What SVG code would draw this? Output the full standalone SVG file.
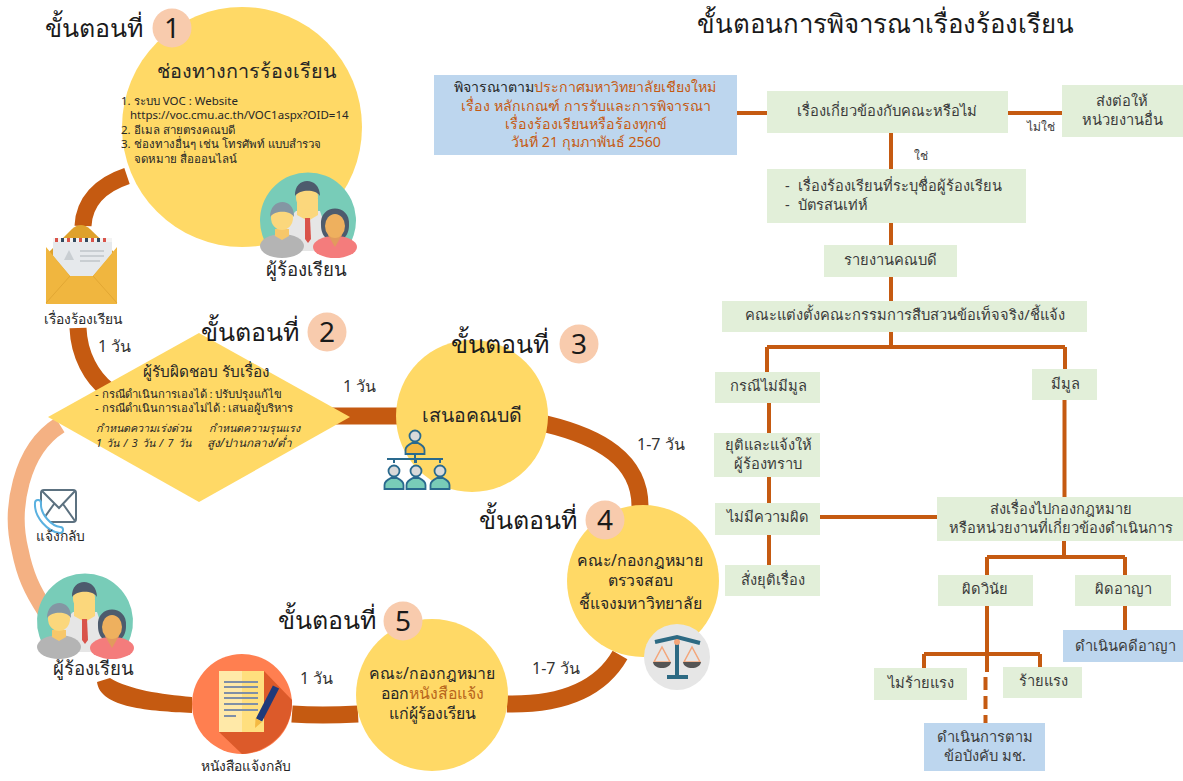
<svg xmlns="http://www.w3.org/2000/svg" width="1183" height="781" viewBox="0 0 1183 781">
<style>
text{font-family:"Noto Sans","Open Sans","DejaVu Sans",sans-serif;fill:#262626}
.c{text-anchor:middle}
.t{font-size:25px;fill:#1a1a1a}
.h{font-size:25.800px;fill:#1a1a1a}
.n{font-size:28px;text-anchor:middle;fill:#1a1a1a}
.num{fill:#f8cbad}
.y{fill:#ffd966}
.g{fill:#e2efd9}
.b{fill:#bdd6ee}
.r{font-size:14.700px;fill:#3b3b3b;text-anchor:middle}
.q{font-size:14.200px;fill:#c55a11;text-anchor:middle}
.d{font-size:16px;fill:#333}
.e{font-size:15.800px;fill:#262626}
.o{fill:#c55a11}
.w{fill:none;stroke:#c55a11;stroke-width:4}
.a{fill:none;stroke:#c55a11;stroke-width:17}
.s{font-size:11.500px}
.m{font-size:11.300px}
.i{font-size:10.800px;font-style:italic}
.l{font-size:13.800px}
.p{font-size:18.600px}
</style>
<defs>
<g id="people">
<path d="M-37,30A48,48 0 1 1 37,30Z" fill="#78ccb8"/>
<path d="M-24,2L-12,-10H12L18,8V30H-20Z" fill="#e6e6e6"/>
<path d="M-11,-22H10V-6L0,0L-11,-6Z" fill="#fbd77c"/>
<ellipse cx="-1" cy="-24" rx="11" ry="13" fill="#fbd77c"/>
<path d="M-13,-25C-14,-45 12,-45 12,-25C8,-32 -8,-32 -13,-25Z" fill="#4d5b6d"/>
<path d="M-3,-3H2L3,18L0,22L-3,18Z" fill="#d9534a"/>
<ellipse cx="-26" cy="25" rx="22" ry="12" fill="#b4b4b4"/>
<path d="M-33,8H-19V15L-26,19L-33,15Z" fill="#f7c76a"/>
<ellipse cx="-26" cy="-3" rx="11" ry="12" fill="#fbd77c"/>
<path d="M-38,-4C-38,-24 -13,-24 -14,-4C-18,-11 -33,-11 -38,-4Z" fill="#8496a3"/>
<path d="M13,4C11,-18 43,-18 41,4C41,10 39,14 37,16H17C15,14 13,10 13,4Z" fill="#4d5b6d"/>
<ellipse cx="27" cy="26" rx="22" ry="11" fill="#f47c7c"/>
<path d="M20,14H34L27,26Z" fill="#e29a5d"/>
<ellipse cx="27" cy="5" rx="10" ry="12" fill="#eeb05e"/>
</g>
<g id="op">
<circle cx="0" cy="-15" r="5.500" fill="#d9d9d9" stroke="#2a6a8e" stroke-width="1.800"/>
<path d="M-9.500,3V-1C-9.500,-5 -5,-7 -3,-8H3C5,-7 9.500,-5 9.500,-1V3Z" stroke="#2a6a8e" stroke-width="1.800"/>
</g>
</defs>

<g id="connectors">
<path class="a" d="M127,176C100,185 84,202 83,226"/>
<path class="a" d="M78,328C79,355 92,378 108,390"/>
<path class="a" d="M330,416H405"/>
<path class="a" d="M546,424C600,437 640,460 640,506"/>
<path class="a" d="M620,655C600,690 560,705 507,704"/>
<path class="a" d="M292,714C320,716 340,715 358,714"/>
<path class="o" d="M110,678C130,690 160,694 192,697V713C150,711 100,708 97,682Z"/>
<path d="M60,425C20,450 10,510 20,550C25,575 32,590 45,610" fill="none" stroke="#f4b183" stroke-width="17"/>
<path class="w" d="M737,113H767M1008,113H1062M891,133V169M891,223V245M891,277V301M891,332V347M767,347H1065M767,347V372M1065,347V369M769,403V433M769,477V503M769,535V565M1064.500,400V497M820,517H937M1064,541V557M987,557H1125M987,557V575M1125,557V575M987,606V672M924,654H1040M924,654V668M1040,654V667M1125,606V630"/>
<path class="w" d="M985.500,677V723" stroke-dasharray="13,6"/>
</g>

<g id="title"><text x="697" y="33" class="h">ขั้นตอนการพิจารณาเรื่องร้องเรียน</text></g>

<g id="step1">
<circle class="y" cx="242" cy="127" r="120"/>
<text x="45" y="37" class="t">ขั้นตอนที่</text>
<circle class="num" cx="172" cy="28" r="19.500"/>
<text x="172" y="38" class="n">1</text>
<text x="246.500" y="78" class="c" style="font-size:19.800px">ช่องทางการร้องเรียน</text>
<text x="121" y="105" class="s">1. ระบบ VOC : Website</text>
<text x="130" y="119" class="s">https://voc.cmu.ac.th/VOC1aspx?OID=14</text>
<text x="121" y="134" class="s">2. อีเมล สายตรงคณบดี</text>
<text x="121" y="148" class="s">3. ช่องทางอื่นๆ เช่น โทรศัพท์ แบบสำรวจ</text>
<text x="134" y="163" class="s">จดหมาย สื่อออนไลน์</text>
</g>
<g id="applicant1">
<use href="#people" x="308" y="221"/>
<text x="306" y="276" class="c p">ผู้ร้องเรียน</text>
</g>
<g id="envelope">
<path d="M46,255L72,229Q81,221 90,229L117,255V304H46Z" fill="#dfa12c"/>
<path d="M53,238H112V254L93,276H70L53,256Z" fill="#e6e9ec"/>
<path d="M53,238H112V242H53Z" fill="#f3f3f3"/>
<path d="M55,238h3v4h-3zM67,238h3v4h-3zM79,238h3v4h-3zM91,238h3v4h-3zM103,238h3v4h-3z" fill="#d9534a"/>
<path d="M61,238h3v4h-3zM73,238h3v4h-3zM85,238h3v4h-3zM97,238h3v4h-3z" fill="#34495e"/>
<path d="M80,250H104V252H80ZM80,255H104V257H80ZM80,260H100V262H80Z" fill="#c9ced2"/>
<path d="M64,260L69,250L74,260Z" fill="#c9ced2"/>
<path d="M46,247L70,276H93L117,247V304H46Z" fill="#f0b63f"/>
<path d="M46,303L70,276M117,303L93,276" stroke="#e2a733" stroke-width="1" fill="none"/>
<text x="83" y="323.500" class="c l">เรื่องร้องเรียน</text>
</g>

<g id="step2">
<polygon class="y" points="199,333 350,417 199,502 48,417"/>
<text x="201" y="341" class="t">ขั้นตอนที่</text>
<circle class="num" cx="327" cy="332" r="19.500"/>
<text x="327" y="342" class="n">2</text>
<text x="206" y="377" class="c" style="font-size:15.300px">ผู้รับผิดชอบ รับเรื่อง</text>
<text x="95" y="398" class="m">- กรณีดำเนินการเองได้ : ปรับปรุงแก้ไข</text>
<text x="95" y="412" class="m">- กรณีดำเนินการเองไม่ได้ : เสนอผู้บริหาร</text>
<text x="96" y="432" class="i">กำหนดความเร่งด่วน</text>
<text x="209" y="432" class="i">กำหนดความรุนแรง</text>
<text x="96" y="447" class="i" style="word-spacing:1.500px">1 วัน / 3 วัน / 7 วัน</text>
<text x="207" y="447" class="i" style="font-size:11.800px">สูง/ปานกลาง/ต่ำ</text>
</g>

<g id="step3">
<circle class="y" cx="472" cy="416" r="76"/>
<text x="451" y="353" class="t">ขั้นตอนที่</text>
<circle class="num" cx="579" cy="344" r="19.500"/>
<text x="579" y="354" class="n">3</text>
<text x="472" y="422" class="c" style="font-size:19.500px">เสนอคณบดี</text>
<use href="#op" x="415" y="451" fill="#f4b942"/>
<path d="M387,459H443M415,454V463M394,459V463M416,459V463M440,459V463" stroke="#2a6a8e" stroke-width="2" fill="none"/>
<use href="#op" x="394" y="486" fill="#78ccb8"/>
<use href="#op" x="416" y="486" fill="#78ccb8"/>
<use href="#op" x="440" y="486" fill="#78ccb8"/>
</g>

<g id="step4">
<circle class="y" cx="643" cy="581" r="76"/>
<text x="479" y="529" class="t">ขั้นตอนที่</text>
<circle class="num" cx="605" cy="520" r="19.500"/>
<text x="605" y="530" class="n">4</text>
<text x="640" y="566" class="c e">คณะ/กองกฎหมาย</text>
<text x="640" y="586" class="c e">ตรวจสอบ</text>
<text x="640" y="609" class="c e">ชี้แจงมหาวิทยาลัย</text>
<circle cx="677" cy="657" r="33" fill="#e6e6e6"/>
<path d="M662,647L654,662H670ZM692,647L684,662H700Z" fill="none" stroke="#f4a67a" stroke-width="1.500"/>
<path d="M653,662H671C670,670 654,670 653,662ZM683,662H701C700,670 684,670 683,662Z" fill="#555"/>
<path d="M655,642L677,637L700,643M677,636V677M667,677H688" fill="none" stroke="#2d6a83" stroke-width="4"/>
<circle cx="677" cy="642" r="3" fill="#f4a67a"/>
</g>

<g id="step5">
<circle class="y" cx="432" cy="695" r="76"/>
<text x="278" y="629" class="t">ขั้นตอนที่</text>
<circle class="num" cx="403" cy="621" r="19.500"/>
<text x="403" y="631" class="n">5</text>
<text x="432" y="679" class="c e">คณะ/กองกฎหมาย</text>
<text x="432" y="699" class="c e">ออก<tspan style="fill:#b8651b">หนังสือแจ้ง</tspan></text>
<text x="432" y="719" class="c e">แก่ผู้ร้องเรียน</text>
</g>

<g id="notice">
<circle cx="242" cy="704" r="50" fill="#ff7f50"/>
<path d="M264,671L292,700C293,730 270,752 242,754L219,732Z" fill="#dc5a2a"/>
<rect x="219" y="671" width="23" height="61" fill="#ffe9a8"/>
<rect x="242" y="671" width="22" height="61" fill="#ffdf7e"/>
<path d="M224,682H258M224,687H258M224,693H258M224,698H258M224,704H258M224,710H258M224,716H236" stroke="#7f8fa6" stroke-width="2"/>
<path d="M276,687L259,720" stroke="#1f3a7a" stroke-width="7"/>
<path d="M255.500,718L262,722L255,728Z" fill="#f4b942"/>
<text x="245.500" y="771" class="c l">หนังสือแจ้งกลับ</text>
</g>

<g id="applicant2">
<use href="#people" x="85" y="622"/>
<text x="93" y="675" class="c p">ผู้ร้องเรียน</text>
</g>

<g id="mail">
<rect x="41" y="490" width="35" height="32" rx="3" fill="#fff" stroke="#5c7180" stroke-width="2"/>
<path d="M42,491L59,508L75,491M42,521L54,504M75,521L63,504" fill="none" stroke="#5c7180" stroke-width="2"/>
<path d="M38,503C37,516 50,529 60,530" fill="none" stroke="#5ab1e0" stroke-width="8" stroke-linecap="round"/>
<path d="M38,503C37,516 50,529 60,530" fill="none" stroke="#fff" stroke-width="4" stroke-linecap="round"/>
<text x="60.500" y="541" class="c l">แจ้งกลับ</text>
</g>

<g id="durations">
<text x="98" y="352" class="d">1 วัน</text>
<text x="343" y="392" class="d">1 วัน</text>
<text x="637" y="450" class="d">1-7 วัน</text>
<text x="532" y="674" class="d">1-7 วัน</text>
<text x="300" y="684" class="d">1 วัน</text>
</g>

<g id="box-rule"><rect class="b" x="434" y="75" width="303" height="80"/>
<text x="585" y="92" class="q"><tspan style="fill:#262626">พิจารณาตาม</tspan>ประกาศมหาวิทยาลัยเชียงใหม่</text>
<text x="586" y="111" class="q">เรื่อง หลักเกณฑ์ การรับและการพิจารณา</text>
<text x="586" y="129" class="q">เรื่องร้องเรียนหรือร้องทุกข์</text>
<text x="586" y="147" class="q">วันที่ 21 กุมภาพันธ์ 2560</text></g>
<g id="box-related"><rect class="g" x="767" y="91" width="241" height="42"/><text x="887" y="116" class="r">เรื่องเกี่ยวข้องกับคณะหรือไม่</text></g>
<g id="box-forward"><rect class="g" x="1062" y="85" width="121" height="52"/><text x="1122" y="106" class="r">ส่งต่อให้</text><text x="1122" y="125" class="r">หน่วยงานอื่น</text></g>
<text x="1041" y="131" class="c" style="font-size:12px;fill:#3b3b3b">ไม่ใช่</text>
<text x="921" y="160" class="c" style="font-size:12px;fill:#3b3b3b">ใช่</text>
<g id="box-types"><rect class="g" x="767" y="169" width="259" height="54"/><text x="785" y="191" style="font-size:14.600px;fill:#3b3b3b">-<tspan x="798">เรื่องร้องเรียนที่ระบุชื่อผู้ร้องเรียน</tspan></text><text x="785" y="210" style="font-size:14.600px;fill:#3b3b3b">-<tspan x="798">บัตรสนเท่ห์</tspan></text></g>
<g id="box-report"><rect class="g" x="824" y="245" width="133" height="32"/><text x="890" y="265" class="r">รายงานคณบดี</text></g>
<g id="box-committee"><rect class="g" x="722" y="301" width="365" height="31"/><text x="905" y="320" class="r">คณะแต่งตั้งคณะกรรมการสืบสวนข้อเท็จจริง/ชี้แจ้ง</text></g>
<g id="box-nobasis"><rect class="g" x="715" y="372" width="105" height="31"/><text x="768" y="391" class="r">กรณีไม่มีมูล</text></g>
<g id="box-basis"><rect class="g" x="1032" y="369" width="65" height="31"/><text x="1065" y="389" class="r">มีมูล</text></g>
<g id="box-stop"><rect class="g" x="714" y="433" width="106" height="44"/><text x="768" y="450" class="r">ยุติและแจ้งให้</text><text x="768" y="469" class="r">ผู้ร้องทราบ</text></g>
<g id="box-innocent"><rect class="g" x="715" y="503" width="105" height="32"/><text x="768" y="522" class="r">ไม่มีความผิด</text></g>
<g id="box-halt"><rect class="g" x="725" y="565" width="95" height="31"/><text x="773" y="585" class="r">สั่งยุติเรื่อง</text></g>
<g id="box-send"><rect class="g" x="937" y="497" width="246" height="44"/><text x="1061" y="514" class="r">ส่งเรื่องไปกองกฎหมาย</text><text x="1061" y="533" class="r">หรือหน่วยงานที่เกี่ยวข้องดำเนินการ</text></g>
<g id="box-disc"><rect class="g" x="938" y="575" width="95" height="31"/><text x="985" y="594" class="r">ผิดวินัย</text></g>
<g id="box-crim"><rect class="g" x="1075" y="575" width="96" height="31"/><text x="1123" y="594" class="r">ผิดอาญา</text></g>
<g id="box-lawsuit"><rect class="b" x="1063" y="630" width="120" height="32"/><text x="1125" y="651" class="r">ดำเนินคดีอาญา</text></g>
<g id="box-minor"><rect class="g" x="874" y="668" width="93" height="32"/><text x="921" y="688" class="r">ไม่ร้ายแรง</text></g>
<g id="box-severe"><rect class="g" x="1003" y="667" width="79" height="31"/><text x="1043" y="686" class="r">ร้ายแรง</text></g>
<g id="box-regulation"><rect class="b" x="924" y="723" width="121" height="48"/><text x="985" y="742" class="r">ดำเนินการตาม</text><text x="985" y="761" class="r">ข้อบังคับ มช.</text></g>
</svg>
